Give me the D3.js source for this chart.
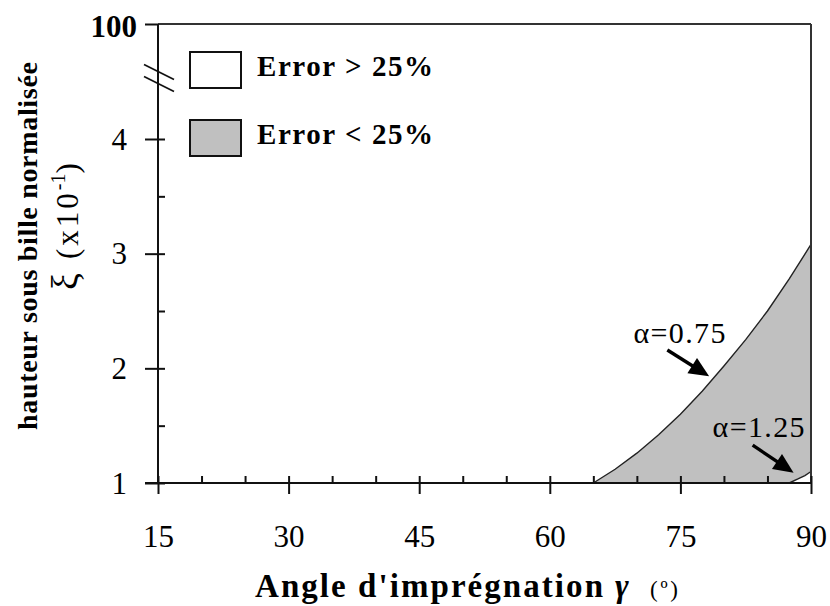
<!DOCTYPE html>
<html>
<head>
<meta charset="utf-8">
<script src="https://cdn.jsdelivr.net/npm/d3@7"></script>
<style>
  html, body { margin: 0; padding: 0; background: #fff; }
  svg { display: block; }
</style>
</head>
<body>
<svg id="chart" width="830" height="606" font-family="'Liberation Serif', 'Times New Roman', serif"></svg>
<script>
// ---------- data ----------
const gammaTicks = [15, 30, 45, 60, 75, 90];
const gammaMinorTicks = [20, 25, 35, 40, 50, 55, 65, 70, 80, 85];
const xiTicks = [1, 2, 3, 4, 100];
const xiMinorTicks = [1.5, 2.5, 3.5];

// alpha = 0.75 boundary curve
const upperGamma = [65, 67.5, 70, 72.5, 75, 77.5, 80, 82.5, 85, 87.5, 90];
const upperXi    = [1.0, 1.12, 1.26, 1.42, 1.6, 1.8, 2.02, 2.25, 2.5, 2.78, 3.08];
// alpha = 1.25 boundary curve
const lowerGamma = [87.5, 88.5, 89.3, 90];
const lowerXi    = [1.0, 1.035, 1.065, 1.1];

const legendLabels = ["Error > 25%", "Error < 25%"];
const curveLabels = ["α=0.75", "α=1.25"];
const xTitle = "Angle d'imprégnation";
const yTitle = "hauteur sous bille normalisée";

// annotation anchors (data coordinates)
const annotations = [
  { label: curveLabels[0], text: [69.6, 2.22], from: [73.5, 2.16], to: [78.3, 1.93] },
  { label: curveLabels[1], text: [78.7, 1.40], from: [83.3, 1.33], to: [88.0, 1.09] }
];

// ---------- layout ----------
const FONT = "'Liberation Serif', 'Times New Roman', serif";
const svg = d3.select("#chart");
const x = d3.scaleLinear().domain([15, 90]).range([158, 811]);
const y = d3.scaleLinear().domain([1, 4, 100]).range([483, 139, 24]);
const ink = "#111";
const gray = "#c0c0c0";

// filled region between the two curves
const upperPts = upperGamma.map((g, i) => [g, upperXi[i]]);
const lowerPts = lowerGamma.map((g, i) => [g, lowerXi[i]]);
const regionPts = upperPts.concat(lowerPts.slice().reverse(), [[upperGamma[0], 1]]);
const line = d3.line().x(d => x(d[0])).y(d => y(d[1]));

svg.append("path")
  .attr("d", line(regionPts) + "Z")
  .attr("fill", gray)
  .attr("stroke", "none");

svg.append("path").attr("d", line(upperPts))
  .attr("fill", "none").attr("stroke", "#222").attr("stroke-width", 1.4);
svg.append("path").attr("d", line(lowerPts))
  .attr("fill", "none").attr("stroke", "#222").attr("stroke-width", 1.4);

// frame (top and right)
svg.append("line")
  .attr("x1", x(15)).attr("x2", x(90)).attr("y1", y(100)).attr("y2", y(100))
  .attr("stroke", "#333").attr("stroke-width", 2);
svg.append("line")
  .attr("x1", x(90)).attr("x2", x(90)).attr("y1", y(100)).attr("y2", y(1))
  .attr("stroke", "#333").attr("stroke-width", 2);

// ---------- x axis ----------
const gx = svg.append("g").attr("transform", `translate(0,${y(1)})`);
gx.call(d3.axisBottom(x).tickValues(gammaTicks).tickSize(11).tickSizeOuter(0).tickFormat(d3.format("d")));
gx.attr("font-family", FONT);
gx.select(".domain").remove();
gx.selectAll(".tick line").attr("y1", -7).attr("stroke", ink).attr("stroke-width", 2);
gx.selectAll(".tick text")
  .attr("y", 64).attr("dy", null)
  .attr("font-size", 31).attr("fill", "#000");
const gxm = svg.append("g").attr("transform", `translate(0,${y(1)})`);
gxm.call(d3.axisBottom(x).tickValues(gammaMinorTicks).tickSize(-7).tickSizeOuter(0).tickFormat(""));
gxm.select(".domain").remove();
gxm.selectAll(".tick line").attr("stroke", ink).attr("stroke-width", 2);
svg.append("line")
  .attr("x1", x(15) - 13).attr("x2", x(90)).attr("y1", y(1)).attr("y2", y(1))
  .attr("stroke", ink).attr("stroke-width", 2);

// ---------- y axis ----------
const gy = svg.append("g").attr("transform", `translate(${x(15)},0)`);
gy.call(d3.axisLeft(y).tickValues(xiTicks).tickSize(13).tickSizeOuter(0).tickFormat(d3.format("d")));
gy.attr("font-family", FONT);
gy.select(".domain").remove();
gy.selectAll(".tick line").attr("x2", d => d === 100 ? 0 : 7).attr("x1", -13)
  .attr("stroke", ink).attr("stroke-width", 2);
gy.selectAll(".tick text")
  .attr("x", d => d === 100 ? -21 : -31)
  .attr("dy", null)
  .attr("y", d => d === 100 ? 12 : 10)
  .attr("font-size", 31)
  .attr("font-weight", d => d === 100 ? "bold" : "normal")
  .attr("fill", "#000");
const gym = svg.append("g").attr("transform", `translate(${x(15)},0)`);
gym.call(d3.axisRight(y).tickValues(xiMinorTicks).tickSize(7).tickSizeOuter(0).tickFormat(""));
gym.select(".domain").remove();
gym.selectAll(".tick line").attr("stroke", ink).attr("stroke-width", 2);
svg.append("line")
  .attr("x1", x(15)).attr("x2", x(15)).attr("y1", y(100)).attr("y2", y(1))
  .attr("stroke", ink).attr("stroke-width", 2);

// axis break marks
const by = (y(4) + y(100)) / 2 - 3;
[-6, 6].forEach(o => {
  svg.append("line")
    .attr("x1", x(15) - 14).attr("y1", by + o - 8)
    .attr("x2", x(15) + 16).attr("y2", by + o + 7)
    .attr("stroke", ink).attr("stroke-width", 1.6);
});

// ---------- legend ----------
const legend = svg.append("g");
legendLabels.forEach((lab, i) => {
  const top = 52 + i * 68;
  legend.append("rect")
    .attr("x", 190).attr("y", top).attr("width", 51).attr("height", 36)
    .attr("fill", i === 0 ? "#fff" : gray).attr("stroke", ink).attr("stroke-width", 2);
  legend.append("text")
    .attr("x", 257).attr("y", top + 24)
    .attr("textLength", 176).attr("lengthAdjust", "spacing")
    .attr("font-size", 29).attr("font-weight", "bold")
    .text(lab);
});

// ---------- annotations ----------
annotations.forEach(a => {
  svg.append("text")
    .attr("x", x(a.text[0])).attr("y", y(a.text[1]))
    .attr("textLength", 92).attr("lengthAdjust", "spacing")
    .attr("font-size", 30)
    .text(a.label);
  const x1 = x(a.from[0]), y1 = y(a.from[1]), x2 = x(a.to[0]), y2 = y(a.to[1]);
  const ang = Math.atan2(y2 - y1, x2 - x1);
  const L = 20, W = 9;
  const bx = x2 - L * Math.cos(ang), byy = y2 - L * Math.sin(ang);
  svg.append("line")
    .attr("x1", x1).attr("y1", y1).attr("x2", bx + 2 * Math.cos(ang)).attr("y2", byy + 2 * Math.sin(ang))
    .attr("stroke", "#000").attr("stroke-width", 3.4);
  const pts = [
    [x2, y2],
    [bx + W * Math.sin(ang), byy - W * Math.cos(ang)],
    [bx - W * Math.sin(ang), byy + W * Math.cos(ang)]
  ];
  svg.append("path").attr("d", "M" + pts.map(p => p.join(",")).join("L") + "Z").attr("fill", "#000");
});

// ---------- titles ----------
svg.append("text")
  .attr("x", 255).attr("y", 597)
  .attr("textLength", 348).attr("lengthAdjust", "spacing")
  .attr("font-size", 33).attr("font-weight", "bold")
  .text(xTitle);
svg.append("text")
  .attr("x", 615).attr("y", 597)
  .attr("font-size", 33).attr("font-weight", "bold").attr("font-style", "italic")
  .text("γ");
svg.append("text")
  .attr("x", 650).attr("y", 597)
  .attr("textLength", 28).attr("lengthAdjust", "spacing")
  .attr("font-size", 23)
  .text("(º)");

svg.append("text")
  .attr("transform", "translate(37,246) rotate(-90)")
  .attr("text-anchor", "middle")
  .attr("textLength", 368).attr("lengthAdjust", "spacing")
  .attr("font-size", 28).attr("font-weight", "bold")
  .text(yTitle);

const yt2 = svg.append("text").attr("transform", "translate(78,290) rotate(-90)");
yt2.append("tspan").attr("font-size", 38).text("ξ");
yt2.append("tspan").attr("dx", 14).attr("font-size", 31).attr("letter-spacing", 3).text("(x10");
yt2.append("tspan").attr("dy", -13).attr("font-size", 20).text("-1");
yt2.append("tspan").attr("dy", 13).attr("font-size", 31).text(")");
</script>
</body>
</html>
